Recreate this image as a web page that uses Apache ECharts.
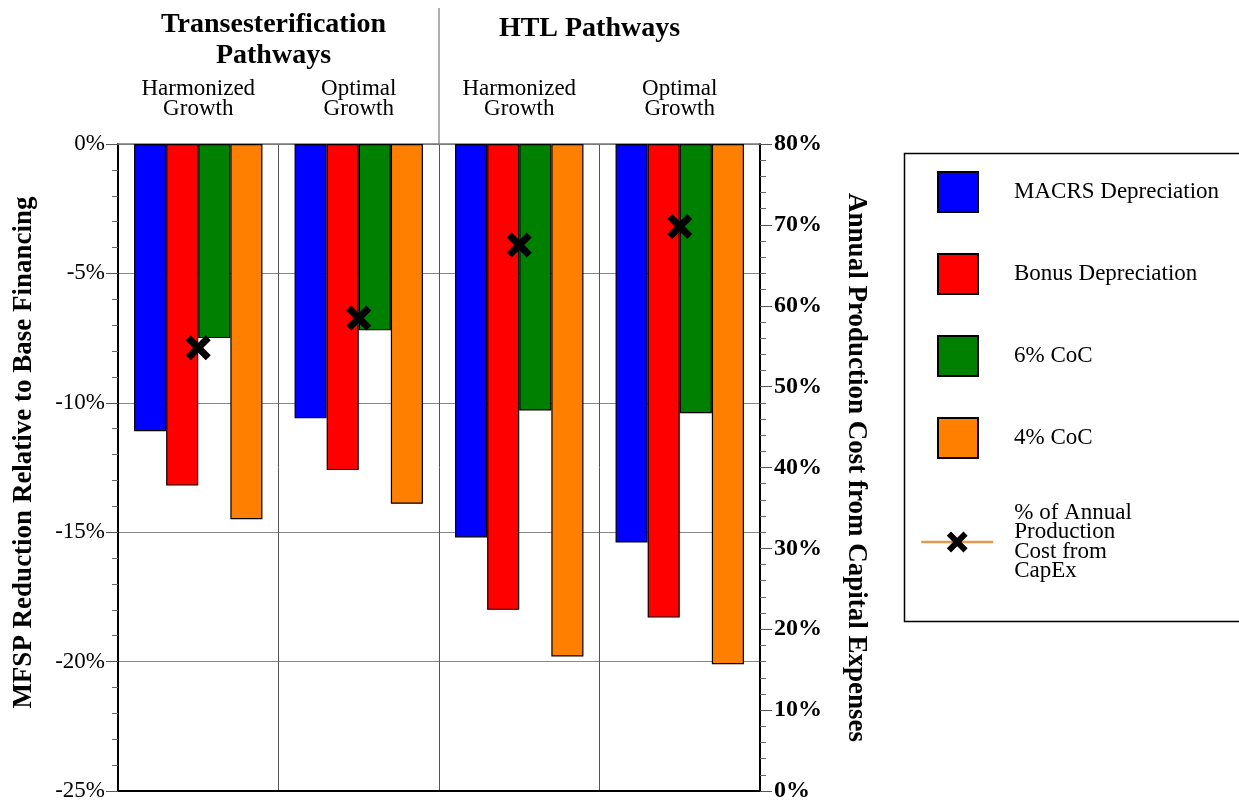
<!DOCTYPE html>
<html>
<head>
<meta charset="utf-8">
<script src="https://cdn.jsdelivr.net/npm/echarts@6/dist/echarts.min.js"></script>
<style>
html,body{margin:0;padding:0;background:#fff;}
#main{width:1239px;height:804px;}
</style>
</head>
<body>
<div id="main"></div>
<script>
var categories = ['Harmonized\nGrowth', 'Optimal\nGrowth', 'Harmonized\nGrowth', 'Optimal\nGrowth'];
var macrs = [-11.1, -10.6, -15.2, -15.4];
var bonus = [-13.2, -12.6, -18.0, -18.3];
var coc6 = [-7.5, -7.2, -10.3, -10.4];
var coc4 = [-14.5, -13.9, -19.8, -20.1];
var capex = [54.8, 58.5, 67.5, 69.8];
var leftTicks = [-25, 0, 5];   // min, max, interval
var rightTicks = [0, 80, 10];

var FONT = '"Liberation Serif", "Times New Roman", serif';
var XPATH = 'path://M0,4 L4,0 L10,6 L16,0 L20,4 L14,10 L20,16 L16,20 L10,14 L4,20 L0,16 L6,10 Z';
var capexName = '% of Annual\nProduction\nCost from\nCapEx';

var chart = echarts.init(document.getElementById('main'), null, {renderer: 'canvas'});

function barSeries(name, data, color) {
  return {
    name: name, type: 'bar', data: data, xAxisIndex: 0, yAxisIndex: 0,
    barGap: '0%', barCategoryGap: '20%',
    itemStyle: {color: color, borderColor: '#000', borderWidth: 1.2},
    emphasis: {disabled: true}, z: 2
  };
}

var option = {
  animation: false,
  backgroundColor: '#fff',
  textStyle: {fontFamily: FONT},
  grid: {left: 118, right: 479, top: 144, bottom: 13, containLabel: false},
  xAxis: [{
    type: 'category', data: categories, position: 'top',
    axisLine: {show: true, lineStyle: {color: '#777', width: 1.5}},
    axisTick: {show: false},
    axisLabel: {show: true, fontFamily: FONT, fontSize: 23, lineHeight: 20, color: '#000', margin: 25, interval: 0},
    splitLine: {show: true, interval: 0, lineStyle: {color: '#555', width: 1}}
  }, {
    type: 'category', data: categories, position: 'bottom',
    axisLine: {show: true, lineStyle: {color: '#000', width: 2}},
    axisTick: {show: false}, axisLabel: {show: false}, splitLine: {show: false}
  }],
  yAxis: [{
    type: 'value', min: leftTicks[0], max: leftTicks[1], interval: leftTicks[2], position: 'left',
    name: 'MFSP Reduction Relative to Base Financing', nameLocation: 'middle', nameRotate: 90, nameGap: 80,
    nameTextStyle: {fontFamily: FONT, fontSize: 27, fontWeight: 'bold', color: '#000', padding: [0, 0, 0, 30]},
    axisLine: {show: true, lineStyle: {color: '#000', width: 2}},
    axisTick: {show: true, inside: false, length: 12, lineStyle: {color: '#555', width: 1}},
    minorTick: {show: true, splitNumber: 5, length: 6, lineStyle: {color: '#666', width: 1}},
    axisLabel: {formatter: '{value}%', fontFamily: FONT, fontSize: 23, color: '#000', margin: 13},
    splitLine: {show: true, lineStyle: {color: '#888', width: 1}}
  }, {
    type: 'value', min: rightTicks[0], max: rightTicks[1], interval: rightTicks[2], position: 'right',
    name: 'Annual Production Cost from Capital Expenses', nameLocation: 'middle', nameRotate: -90, nameGap: 82,
    nameTextStyle: {fontFamily: FONT, fontSize: 27, fontWeight: 'bold', color: '#000'},
    axisLine: {show: true, lineStyle: {color: '#000', width: 2}},
    axisTick: {show: true, inside: false, length: 12, lineStyle: {color: '#555', width: 1}},
    minorTick: {show: true, splitNumber: 5, length: 6, lineStyle: {color: '#666', width: 1}},
    axisLabel: {formatter: '{value}%', fontFamily: FONT, fontSize: 24, fontWeight: 'bold', color: '#000', margin: 14},
    splitLine: {show: false}
  }],
  legend: [{
    orient: 'vertical', left: 937, top: 171, itemWidth: 40, itemHeight: 40, itemGap: 40,
    padding: 0, icon: 'rect', selectedMode: false,
    data: ['MACRS Depreciation', 'Bonus Depreciation', '6% CoC', '4% CoC'],
    textStyle: {fontFamily: FONT, fontSize: 23, color: '#000', padding: [0, 0, 0, 31]}
  }, {
    orient: 'vertical', left: 920, top: 496, itemWidth: 72, itemHeight: 26,
    padding: 0, selectedMode: false,
    data: [{name: capexName, lineStyle: {color: '#E39A4C', width: 2.5, opacity: 1}, itemStyle: {color: '#000'}}],
    textStyle: {fontFamily: FONT, fontSize: 23, color: '#000', lineHeight: 19.5, padding: [0, 0, 14, 16]}
  }],
  series: [
    barSeries('MACRS Depreciation', macrs, '#0000FF'),
    barSeries('Bonus Depreciation', bonus, '#FF0000'),
    barSeries('6% CoC', coc6, '#008000'),
    barSeries('4% CoC', coc4, '#FF8000'),
    {
      name: capexName, type: 'line', data: capex, xAxisIndex: 0, yAxisIndex: 1,
      symbol: XPATH, symbolSize: 25, showAllSymbol: true,
      lineStyle: {width: 0, opacity: 0, color: '#E39A4C'},
      itemStyle: {color: '#000'}, emphasis: {disabled: true}, z: 5
    }
  ]
};
chart.setOption(option);

// position headings and separator from the category scale
var p0 = chart.convertToPixel({xAxisIndex: 0}, 0);
var p1 = chart.convertToPixel({xAxisIndex: 0}, 1);
var p2 = chart.convertToPixel({xAxisIndex: 0}, 2);
var p3 = chart.convertToPixel({xAxisIndex: 0}, 3);
var mid = (p1 + p2) / 2;
var topY = chart.convertToPixel({yAxisIndex: 0}, 0);
chart.setOption({
  graphic: [{
    type: 'rect', left: 902, top: 151, shape: {width: 345, height: 468},
    style: {fill: 'none', stroke: '#000', lineWidth: 1.5}, z: -1, silent: true
  }, {
    type: 'text', x: (p0 + p1) / 2 - 5, y: 9,
    style: {text: 'Transesterification\nPathways', fontFamily: FONT, fontSize: 28, fontWeight: 'bold', fill: '#000', align: 'center', lineHeight: 31}
  }, {
    type: 'text', x: (p2 + p3) / 2 - 10, y: 13,
    style: {text: 'HTL Pathways', fontFamily: FONT, fontSize: 28, fontWeight: 'bold', fill: '#000', align: 'center', lineHeight: 31}
  }, {
    type: 'line', shape: {x1: mid, y1: 8, x2: mid, y2: topY},
    style: {stroke: '#777', lineWidth: 1.2}, silent: true
  }]
});
</script>
</body>
</html>
